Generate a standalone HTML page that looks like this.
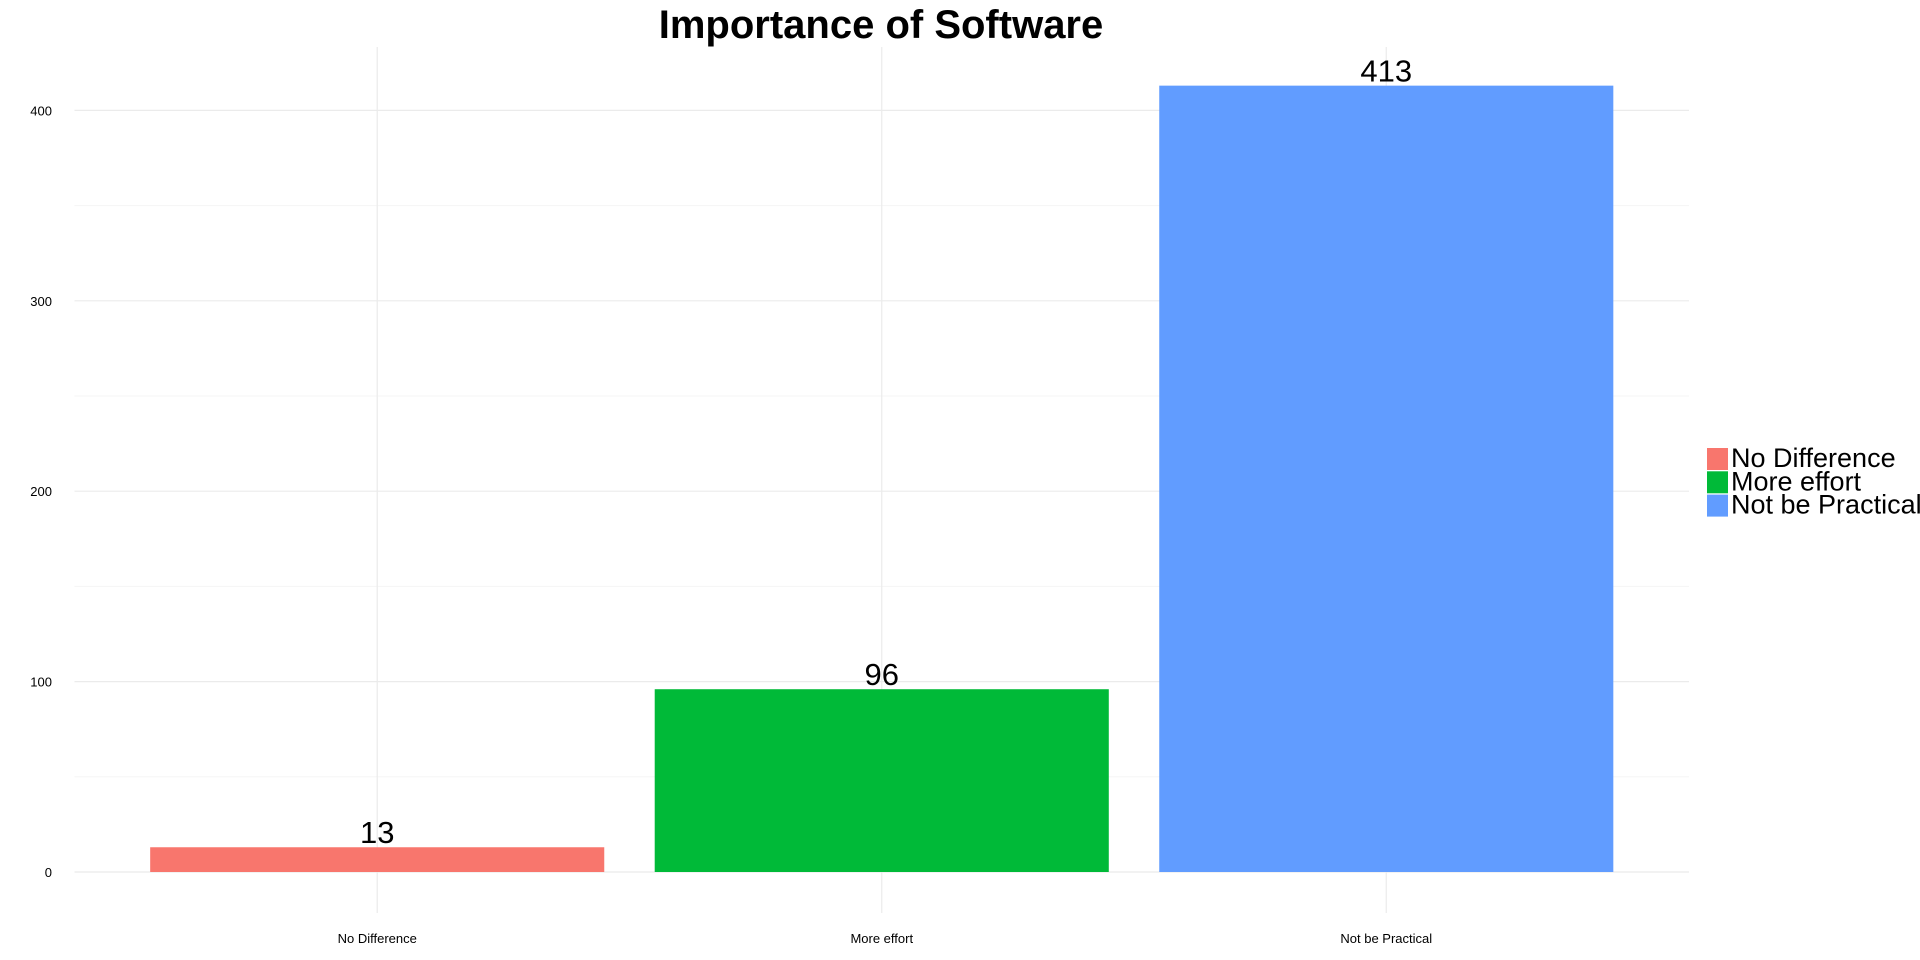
<!DOCTYPE html>
<html><head><meta charset="utf-8"><style>
html,body{margin:0;padding:0;background:#fff;}
svg{display:block;font-family:"Liberation Sans",sans-serif;}
</style></head><body>
<svg id="chart" width="1920" height="960" viewBox="0 0 1920 960">
<text x="881" y="38" text-anchor="middle" font-size="40" font-weight="bold">Importance of Software</text>
<g id="grid"></g><g id="bars"></g><g id="axes"></g><g id="legend"></g>
</svg>
<script>
const categories = ["No Difference", "More effort", "Not be Practical"];
const counts = [13, 96, 413];
const colors = ["#F8766D", "#00BA38", "#619CFF"];
const yTicks = [0, 100, 200, 300, 400];
const yMinor = [50, 150, 250, 350];

const NS = "http://www.w3.org/2000/svg";
const px0 = 74.5, px1 = 1689, pyTop = 47, pyBot = 913;
const y0 = 872, yPer = 190.4 / 100;
function yScale(v){ return y0 - v * yPer; }
const step = (px1 - px0) / (categories.length - 1 + 1.2);
function xCenter(i){ return px0 + step * (0.6 + i); }
const barW = step * 0.9;
function mk(tag, attrs, parent){ const e = document.createElementNS(NS, tag); for (const k in attrs) e.setAttribute(k, attrs[k]); parent.appendChild(e); return e; }
const grid = document.getElementById('grid'), bars = document.getElementById('bars'), axes = document.getElementById('axes'), legend = document.getElementById('legend');

yMinor.forEach(v => {
  const l = mk('line', {x1:px0, x2:px1, y1:yScale(v), y2:yScale(v), stroke:'#f5f5f5', 'stroke-width':1}, grid);
  
  
});
yTicks.forEach(v => {
  const l = mk('line', {x1:px0, x2:px1, y1:yScale(v), y2:yScale(v), stroke:'#ebebeb', 'stroke-width':1.2}, grid);
  
  
  const t = mk('text', {x:52, y:yScale(v)+5, 'text-anchor':'end', 'font-size':13}, axes);
  t.textContent = v;
  
  
});
categories.forEach((c, i) => {
  const cx = xCenter(i);
  const g = mk('line', {x1:cx, x2:cx, y1:pyTop, y2:pyBot, stroke:'#ebebeb', 'stroke-width':1.2}, grid);
  
  
  const top = yScale(counts[i]);
  const r = mk('rect', {x:cx - barW/2, y:top, width:barW, height:y0 - top, fill:colors[i]}, bars);
  
  
  const v = mk('text', {x:cx, y:top - 4, 'text-anchor':'middle', 'font-size':31}, bars);
  v.textContent = counts[i];
  
  
  const t = mk('text', {x:cx, y:943, 'text-anchor':'middle', 'font-size':13}, axes);
  t.textContent = c;
  
  
  const k = mk('rect', {x:1707, y:448 + i*23.3, width:21, height:22, fill:colors[i]}, legend);
  
  
  const lt = mk('text', {x:1731, y:467 + i*23.3, 'font-size':27}, legend);
  lt.textContent = c;
  
  
});
</script>
</body></html>
